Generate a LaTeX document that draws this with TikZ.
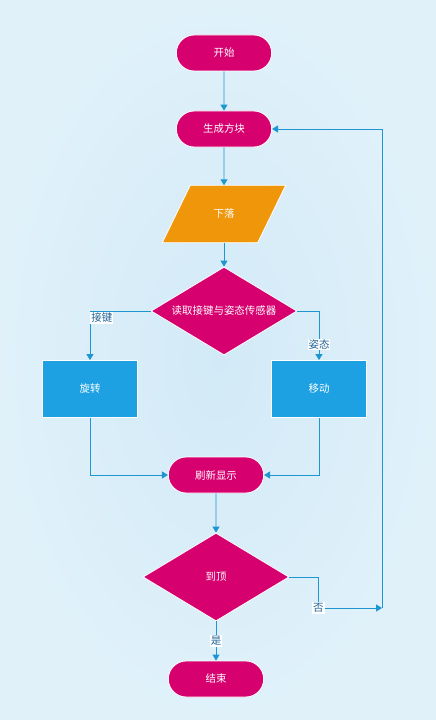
\documentclass[tikz,border=0pt]{standalone}
\usepackage{fontspec}
\usepackage{tikz}
\usetikzlibrary{shapes.geometric,shapes.misc,arrows.meta}
\newfontfamily\cjk{Noto Sans CJK SC}
\definecolor{bgblue}{HTML}{E0F1FA}
\definecolor{bgmid}{HTML}{D2EAF7}
\definecolor{flowred}{HTML}{D6006F}
\definecolor{floworange}{HTML}{F0960A}
\definecolor{flowblue}{HTML}{1DA1E2}
\definecolor{linkblue}{HTML}{1E96D2}
\definecolor{labelblue}{HTML}{1F6397}

\begin{document}
\begin{tikzpicture}[x=1bp,y=-1bp,
  every node/.style={font=\cjk\fontsize{10.5}{12}\selectfont, text=white},
  terminal/.style={rounded rectangle, fill=flowred, draw=white, line width=0.8bp, minimum width=102bp, minimum height=36bp},
  process/.style={rectangle, fill=flowblue, draw=white, line width=0.8bp, minimum width=95bp, minimum height=57bp},
  io/.style={rectangle, minimum width=123bp, minimum height=57bp},
  decision/.style={diamond, aspect=1.66, fill=flowred, draw=white, line width=0.8bp, minimum width=146bp, minimum height=88bp, inner sep=1bp},
  link/.style={draw=linkblue, line width=0.9bp, -{Triangle[width=7bp,length=6bp]}},
  tag/.style={fill=white, text=labelblue, inner sep=1bp}]
			\useasboundingbox (0,0) rectangle (436,720);
			\fill[inner color=bgmid, outer color=bgblue] (0,0) rectangle (436,720);
			\node[terminal] (start) at (224,53) {开始};
			\node[terminal] (make) at (224,129) {生成方块};
			\node[io] (fall) at (224,214) {};
			\filldraw[fill=floworange, draw=white, line width=0.8bp] (fall.south west) -- ([xshift=-28bp]fall.south east) -- (fall.north east) -- ([xshift=28bp]fall.north west) -- cycle;
			\node at (fall) {下落};
			\node[decision] (read) at (224,311) {读取接键与姿态传感器};
			\node[process] (rotate) at (90,389) {旋转};
			\node[process] (move) at (319,389) {移动};
			\node[terminal] (refresh) at (216,475) {刷新显示};
			\node[decision] (top) at (216,577) {到顶};
			\node[terminal] (stop) at (216,679) {结束};
			\coordinate (loop) at (382,608);
			\draw[link] (start) -- (make);
			\draw[link] (make) -- (fall);
			\draw[link] (fall) -- (read);
			\draw[link] (read.west) -| node[tag, anchor=west, pos=0.57] {接键} (rotate.north);
			\draw[link] (read.east) -| node[tag, pos=0.84] {姿态} (move.north);
			\draw[link] (rotate.south) |- (refresh.west);
			\draw[link] (move.south) |- (refresh.east);
			\draw[link] (refresh) -- (top);
			\draw[link] (top.south) -- node[tag] {是} (stop.north);
			\draw[link] (top.east) -- ++(29,0) |- node[tag, pos=0.5] {否} (loop);
			\draw[link] (loop) |- (make.east);
		\end{tikzpicture}
\end{document}
